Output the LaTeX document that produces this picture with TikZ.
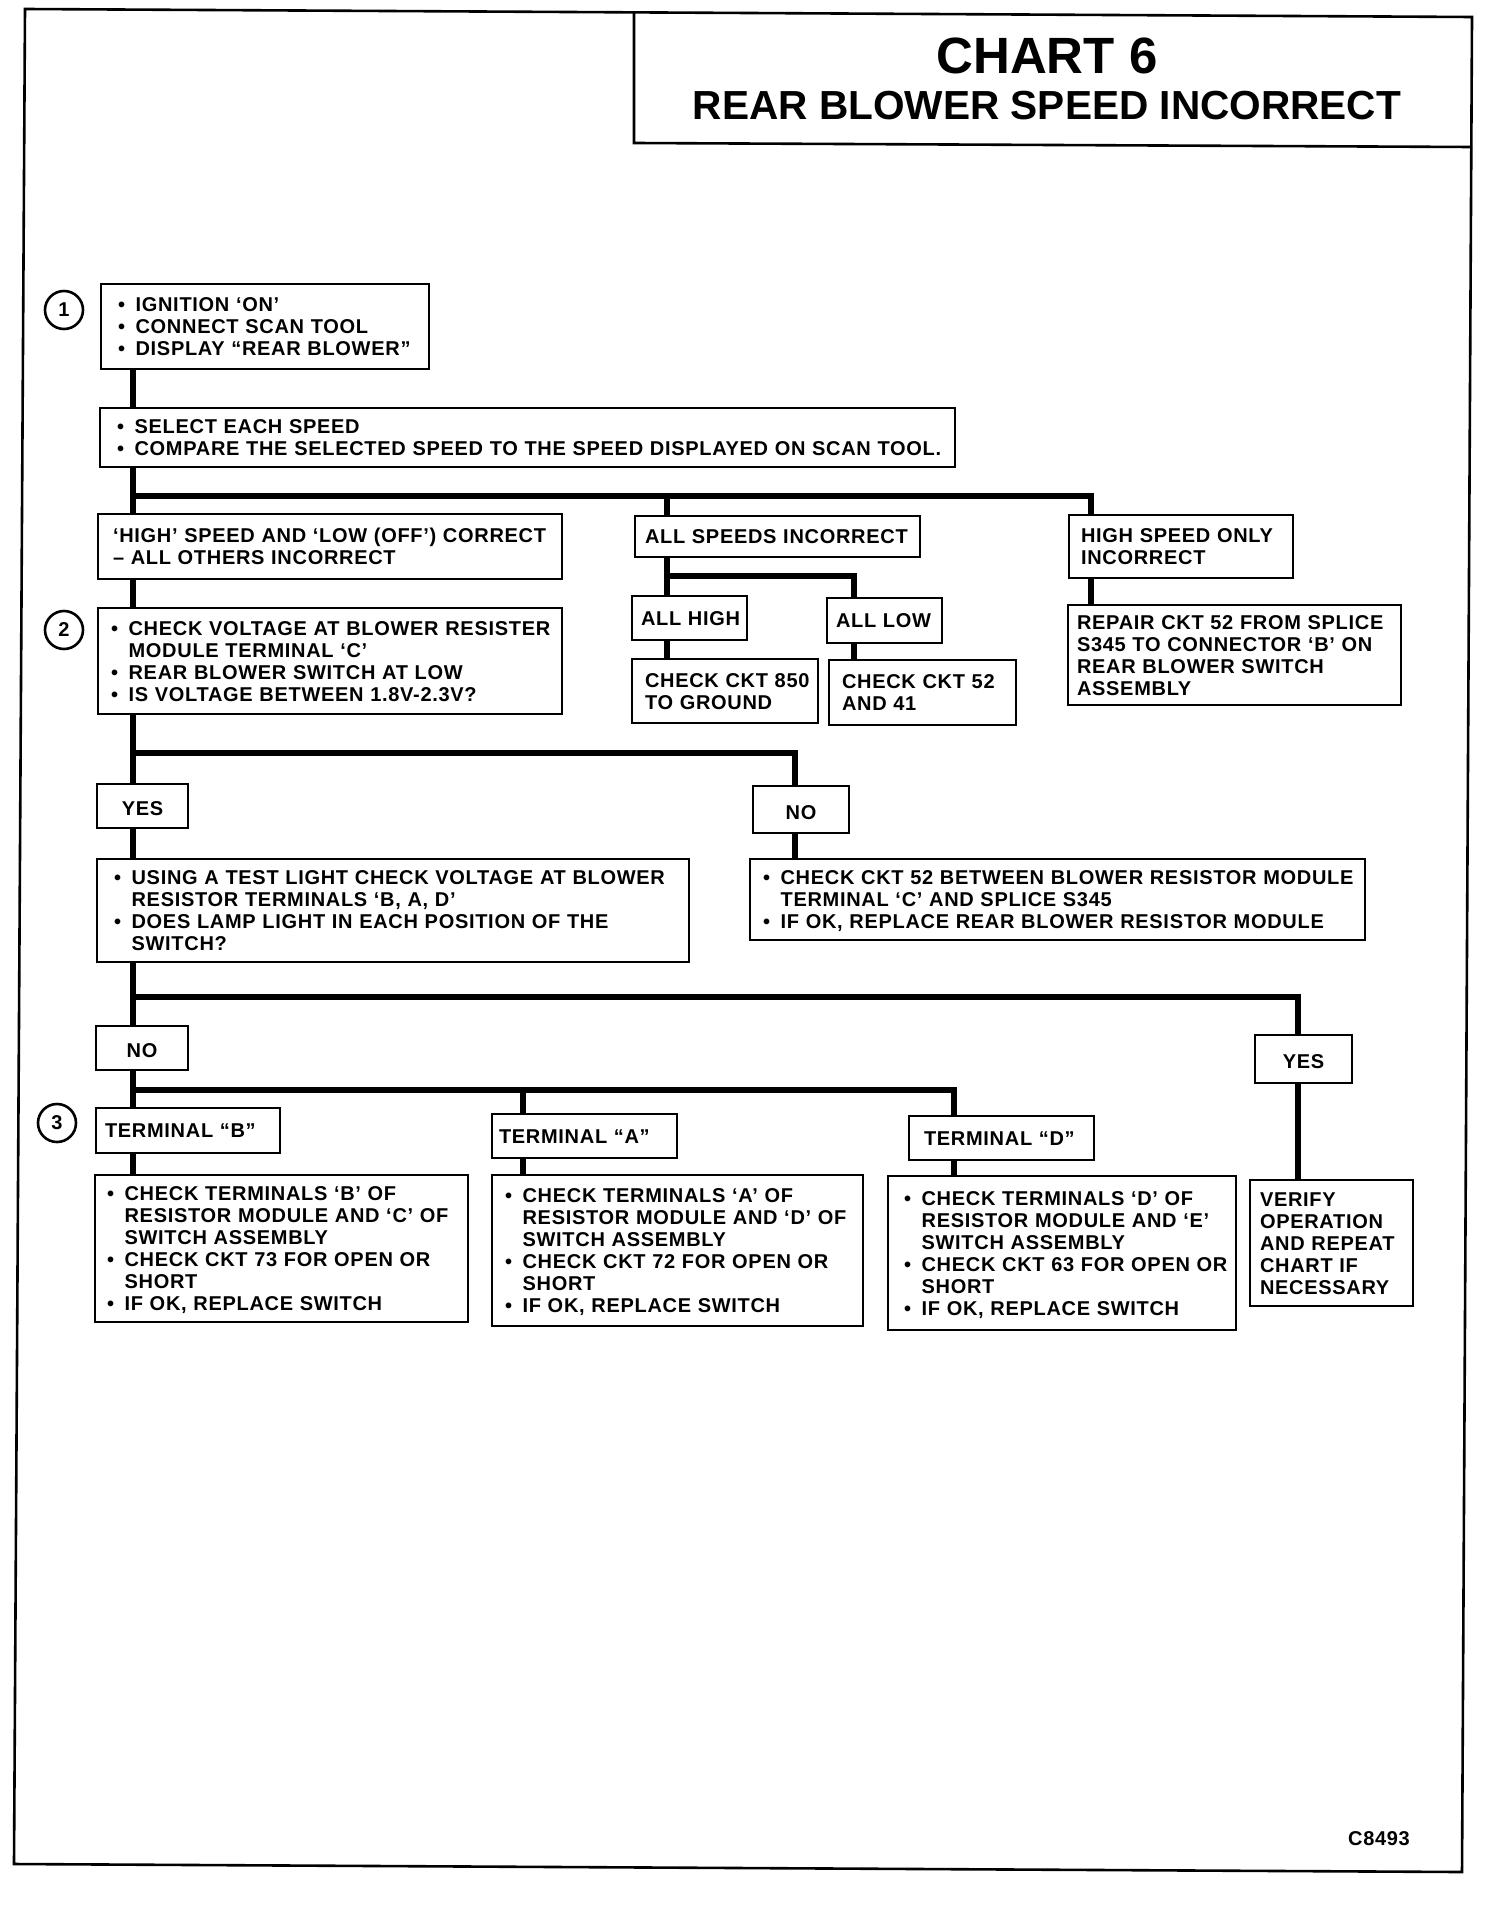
\documentclass[tikz,border=0pt]{standalone}
\usepackage{fontspec}
\newfontfamily\bodyfont{Liberation Sans}[LetterSpace=3.5]
\newfontfamily\titlefont{Liberation Sans}
\newcommand\bl{\makebox[8.8pt][l]{•}}
\newcommand\ind{\hspace*{8.8pt}}
\newcommand\lowered[1]{\raisebox{-1.4pt}[\height][\depth]{#1}}
\tikzset{
  box/.style={draw, line width=1.4pt, rectangle, inner ysep=0pt, outer sep=0pt,
    font=\bodyfont\bfseries\fontsize{10}{11}\selectfont},
  conn/.style={line width=2.6pt, line join=miter},
  num/.style={circle, draw, line width=1.3pt, minimum size=19pt, inner sep=0pt,
    font=\bodyfont\bfseries\fontsize{10}{12}\selectfont},
  frame/.style={line width=1.3pt}
}
\newcommand\mkbox[7]{%
  \pgfmathsetmacro\bw{(#4-#2)*0.5}%
  \pgfmathsetmacro\bh{(#5-#3)*0.5}%
  \pgfmathsetmacro\bp{#6*0.5}%
  \pgfmathsetmacro\bt{\bw-2*\bp}%
  \node[box, anchor=north west, align=left, inner xsep=\bp pt, minimum width=\bw pt,
    minimum height=\bh pt, text width=\bt pt] (#1) at (#2,#3)
    {\lowered{\begin{tabular}{@{}l@{}}#7\end{tabular}}};}
\newcommand\mkcbox[6]{%
  \pgfmathsetmacro\bw{(#4-#2)*0.5}%
  \pgfmathsetmacro\bh{(#5-#3)*0.5}%
  \node[box, anchor=north west, align=center, inner xsep=0pt, minimum width=\bw pt,
    minimum height=\bh pt, text width=\bw pt] (#1) at (#2,#3) {\lowered{#6}};}
\begin{document}
\begin{tikzpicture}[x=0.5pt, y=-0.5pt]
\useasboundingbox (0,0) rectangle (1504,1926);
\fill[white] (0,0) rectangle (1504,1926);
% outer frame and title box
\draw[frame] (25,9) -- (1472,17) -- (1462,1872) -- (14,1864) -- cycle;
\draw[frame] (634,13) -- (634,143) -- (1472,147);
\node[anchor=base, font=\titlefont\bfseries\fontsize{25.5}{30}\selectfont] (t1) at (1047,74) {CHART 6};
\node[anchor=base, font=\titlefont\bfseries\fontsize{20.3}{24}\selectfont] (t2) at (1047,120) {REAR BLOWER SPEED INCORRECT};
\node[anchor=base, font=\bodyfont\bfseries\fontsize{10}{12}\selectfont] (code) at (1379,1845) {C8493};
% step numbers
\node[num] (n1) at (64,310) {1};
\node[num] (n2) at (64,630) {2};
\node[num] (n3) at (57,1123) {3};
% boxes
\mkbox{b1}{101}{284}{429}{369}{17}{\bl IGNITION ‘ON’\\ \bl CONNECT SCAN TOOL\\ \bl DISPLAY “REAR BLOWER”}
\mkbox{b2}{100}{408}{955}{467}{17}{\bl SELECT EACH SPEED\\ \bl COMPARE THE SELECTED SPEED TO THE SPEED DISPLAYED ON SCAN TOOL.}
\mkbox{hi}{98}{514}{562}{579}{15}{‘HIGH’ SPEED AND ‘LOW (OFF’) CORRECT\\ – ALL OTHERS INCORRECT}
\mkbox{as}{635}{516}{920}{557}{10}{ALL SPEEDS INCORRECT}
\mkbox{ho}{1069}{515}{1293}{578}{12}{HIGH SPEED ONLY\\ INCORRECT}
\mkbox{ah}{632}{596}{747}{640}{9}{ALL HIGH}
\mkbox{al}{827}{598}{942}{643}{9}{ALL LOW}
\mkbox{c850}{632}{659}{818}{723}{13}{CHECK CKT 850\\ TO GROUND}
\mkbox{c52}{829}{660}{1016}{725}{13}{CHECK CKT 52\\ AND 41}
\mkbox{rep}{1068}{605}{1401}{705}{9}{REPAIR CKT 52 FROM SPLICE\\ S345 TO CONNECTOR ‘B’ ON\\ REAR BLOWER SWITCH\\ ASSEMBLY}
\mkbox{cv}{98}{608}{562}{714}{13}{\bl CHECK VOLTAGE AT BLOWER RESISTER\\ \ind MODULE TERMINAL ‘C’\\ \bl REAR BLOWER SWITCH AT LOW\\ \bl IS VOLTAGE BETWEEN 1.8V-2.3V?}
\mkcbox{yes1}{97}{784}{188}{828}{YES}
\mkcbox{no1}{753}{786}{849}{833}{NO}
\mkbox{tl}{97}{859}{689}{962}{17}{\bl USING A TEST LIGHT CHECK VOLTAGE AT BLOWER\\ \ind RESISTOR TERMINALS ‘B, A, D’\\ \bl DOES LAMP LIGHT IN EACH POSITION OF THE\\ \ind SWITCH?}
\mkbox{ck52}{750}{859}{1365}{940}{13}{\bl CHECK CKT 52 BETWEEN BLOWER RESISTOR MODULE\\ \ind TERMINAL ‘C’ AND SPLICE S345\\ \bl IF OK, REPLACE REAR BLOWER RESISTOR MODULE}
\mkcbox{no2}{96}{1026}{188}{1070}{NO}
\mkcbox{yes2}{1255}{1035}{1352}{1083}{YES}
\mkbox{ver}{1250}{1180}{1413}{1306}{10}{VERIFY\\ OPERATION\\ AND REPEAT\\ CHART IF\\ NECESSARY}
\mkbox{tb}{96}{1108}{280}{1153}{9}{TERMINAL “B”}
\mkbox{ta}{492}{1114}{677}{1158}{7}{TERMINAL “A”}
\mkbox{td}{909}{1116}{1094}{1160}{15}{TERMINAL “D”}
\mkbox{kb}{95}{1175}{468}{1322}{12}{\bl CHECK TERMINALS ‘B’ OF\\ \ind RESISTOR MODULE AND ‘C’ OF\\ \ind SWITCH ASSEMBLY\\ \bl CHECK CKT 73 FOR OPEN OR\\ \ind SHORT\\ \bl IF OK, REPLACE SWITCH}
\mkbox{ka}{492}{1175}{863}{1326}{13}{\bl CHECK TERMINALS ‘A’ OF\\ \ind RESISTOR MODULE AND ‘D’ OF\\ \ind SWITCH ASSEMBLY\\ \bl CHECK CKT 72 FOR OPEN OR\\ \ind SHORT\\ \bl IF OK, REPLACE SWITCH}
\mkbox{kd}{888}{1176}{1236}{1330}{16}{\bl CHECK TERMINALS ‘D’ OF\\ \ind RESISTOR MODULE AND ‘E’\\ \ind SWITCH ASSEMBLY\\ \bl CHECK CKT 63 FOR OPEN OR\\ \ind SHORT\\ \bl IF OK, REPLACE SWITCH}
% connector guide coordinates
\coordinate (xt) at (133,0);
\coordinate (xas) at (667,0);
\coordinate (xal) at (854,0);
\coordinate (xho) at (1091,0);
\coordinate (xno) at (795,0);
\coordinate (xys) at (1298,0);
\coordinate (xta) at (523,0);
\coordinate (xtd) at (954,0);
\coordinate (ya) at (0,496);
\coordinate (yb) at (0,576);
\coordinate (yc) at (0,753);
\coordinate (yd) at (0,997);
\coordinate (ye) at (0,1090);
% connectors
\draw[conn] (b1.south -| xt) -- (b2.north -| xt);
\draw[conn] (b2.south -| xt) -- (hi.north -| xt);
\draw[conn] (xt |- ya) -| (ho.north -| xho);
\draw[conn] (xas |- ya) -- (as.north -| xas);
\draw[conn] (as.south -| xas) -- (ah.north -| xas);
\draw[conn] (xas |- yb) -| (al.north -| xal);
\draw[conn] (ah.south -| xas) -- (c850.north -| xas);
\draw[conn] (al.south -| xal) -- (c52.north -| xal);
\draw[conn] (ho.south -| xho) -- (rep.north -| xho);
\draw[conn] (hi.south -| xt) -- (cv.north -| xt);
\draw[conn] (cv.south -| xt) -- (yes1.north -| xt);
\draw[conn] (xt |- yc) -| (no1.north -| xno);
\draw[conn] (yes1.south -| xt) -- (tl.north -| xt);
\draw[conn] (no1.south -| xno) -- (ck52.north -| xno);
\draw[conn] (tl.south -| xt) -- (no2.north -| xt);
\draw[conn] (xt |- yd) -| (yes2.north -| xys);
\draw[conn] (yes2.south -| xys) -- (ver.north -| xys);
\draw[conn] (no2.south -| xt) -- (tb.north -| xt);
\draw[conn] (xt |- ye) -| (td.north -| xtd);
\draw[conn] (xta |- ye) -- (ta.north -| xta);
\draw[conn] (tb.south -| xt) -- (kb.north -| xt);
\draw[conn] (ta.south -| xta) -- (ka.north -| xta);
\draw[conn] (td.south -| xtd) -- (kd.north -| xtd);
\end{tikzpicture}
\end{document}
